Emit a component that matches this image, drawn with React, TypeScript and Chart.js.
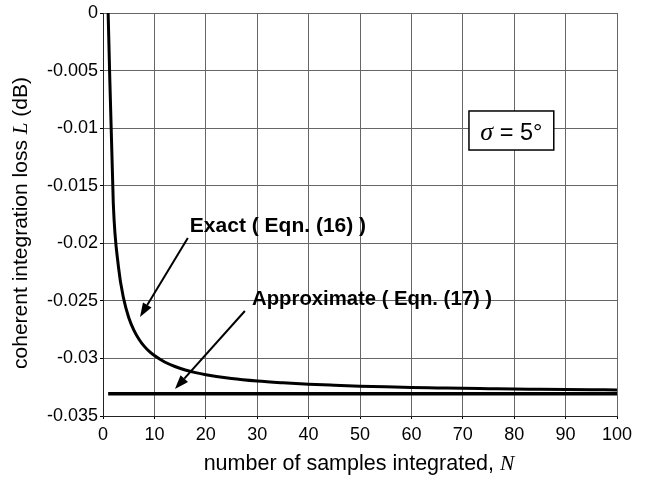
import React, { useEffect, useRef } from "react";
import { Chart, registerables } from "chart.js";

Chart.register(...registerables);

// ---- data ----
const sampleCounts = [1, 2, 3, 4, 5, 6, 7, 8, 9, 10, 12, 14, 16, 18, 20, 25, 30, 35, 40, 45, 50, 55, 60, 65, 70, 75, 80, 85, 90, 95, 100];
const exactLoss = [0, -0.0165, -0.02202, -0.02478, -0.02644, -0.02754, -0.02833, -0.02893, -0.02939, -0.02975, -0.03031, -0.0307, -0.031, -0.03123, -0.03141, -0.03175, -0.03197, -0.03212, -0.03224, -0.03233, -0.03241, -0.03247, -0.03252, -0.03256, -0.0326, -0.03263, -0.03266, -0.03268, -0.0327, -0.03272, -0.03274];
const approxN = [1, 100];
const approxLoss = [-0.03306, -0.03306];
const xTickValues = [0, 10, 20, 30, 40, 50, 60, 70, 80, 90, 100];
const yTickLabels = ["0", "-0.005", "-0.01", "-0.015", "-0.02", "-0.025", "-0.03", "-0.035"];

const exactLabel = "Exact ( Eqn. (16) )";
const approxLabel = "Approximate ( Eqn. (17) )";

const SANS = '"Liberation Sans", Arial, Helvetica, sans-serif';
const SERIF = '"Liberation Serif", "Times New Roman", serif';

type Seg = { t: string; f: string };

function drawSegs(ctx: CanvasRenderingContext2D, segs: Seg[], cx: number, baseline: number) {
  let total = 0;
  for (const s of segs) {
    ctx.font = s.f;
    total += ctx.measureText(s.t).width;
  }
  let xx = cx - total / 2;
  ctx.textAlign = "left";
  ctx.textBaseline = "alphabetic";
  for (const s of segs) {
    ctx.font = s.f;
    ctx.fillText(s.t, xx, baseline);
    xx += ctx.measureText(s.t).width;
  }
}

function arrow(ctx: CanvasRenderingContext2D, x1: number, y1: number, x2: number, y2: number) {
  const ang = Math.atan2(y2 - y1, x2 - x1);
  const hl = 14;
  const hw = 5;
  const bx = x2 - hl * Math.cos(ang);
  const by = y2 - hl * Math.sin(ang);
  ctx.beginPath();
  ctx.moveTo(x1, y1);
  ctx.lineTo(bx, by);
  ctx.lineWidth = 2;
  ctx.strokeStyle = "#000";
  ctx.stroke();
  ctx.beginPath();
  ctx.moveTo(x2, y2);
  ctx.lineTo(bx + hw * Math.sin(ang), by - hw * Math.cos(ang));
  ctx.lineTo(bx - hw * Math.sin(ang), by + hw * Math.cos(ang));
  ctx.closePath();
  ctx.fillStyle = "#000";
  ctx.fill();
}

const annotPlugin = {
  id: "annot",
  afterDraw(chart: any) {
    const { ctx, scales } = chart;
    const x = scales.x;
    const y = scales.y;
    const px = (v: number) => x.getPixelForValue(v);
    const py = (v: number) => y.getPixelForValue(v);
    ctx.save();
    ctx.fillStyle = "#000";

    // labels
    ctx.textAlign = "left";
    ctx.textBaseline = "alphabetic";
    ctx.font = `bold 21px ${SANS}`;
    ctx.fillText(exactLabel, px(16.9), py(-0.01902));
    ctx.font = `bold 20.3px ${SANS}`;
    ctx.fillText(approxLabel, px(29.0), py(-0.02536));

    arrow(ctx, px(16.5), py(-0.01954), px(7.2), py(-0.0264));
    arrow(ctx, px(27.6), py(-0.02588), px(14.0), py(-0.03266));

    // sigma box
    const bx1 = px(71.2), bx2 = px(87.7), by1 = py(-0.00851), by2 = py(-0.0119);
    ctx.fillStyle = "#fff";
    ctx.fillRect(bx1, by1, bx2 - bx1, by2 - by1);
    ctx.lineWidth = 1.5;
    ctx.strokeStyle = "#000";
    ctx.strokeRect(bx1, by1, bx2 - bx1, by2 - by1);
    ctx.fillStyle = "#000";
    drawSegs(ctx, [
      { t: "\u03C3", f: `italic 26px ${SERIF}` },
      { t: " = 5\u00B0", f: `23.5px ${SANS}` },
    ], (bx1 + bx2) / 2, py(-0.01103));

    // x axis title
    drawSegs(ctx, [
      { t: "number of samples integrated, ", f: `21.5px ${SANS}` },
      { t: "N", f: `italic 21.5px ${SERIF}` },
    ], 359, 470);

    // y axis title
    ctx.save();
    ctx.translate(27, 223);
    ctx.rotate(-Math.PI / 2);
    drawSegs(ctx, [
      { t: "coherent integration loss ", f: `21px ${SANS}` },
      { t: "L", f: `italic 21px ${SERIF}` },
      { t: " (dB)", f: `21px ${SANS}` },
    ], 0, 0);
    ctx.restore();

    ctx.restore();
  },
};

export default function App() {
  const ref = useRef<HTMLCanvasElement | null>(null);
  useEffect(() => {
    if (!ref.current) return;
    const chart = new Chart(ref.current, {
      type: "line",
      data: {
        datasets: [
          {
            label: "Exact",
            data: sampleCounts.map((n, i) => ({ x: n, y: exactLoss[i] })),
            borderColor: "#000",
            borderWidth: 3,
            pointRadius: 0,
            cubicInterpolationMode: "monotone",
            fill: false,
          },
          {
            label: "Approximate",
            data: approxN.map((n, i) => ({ x: n, y: approxLoss[i] })),
            borderColor: "#000",
            borderWidth: 3.5,
            pointRadius: 0,
            fill: false,
          },
        ],
      },
      options: {
        responsive: false,
        animation: false,
        layout: { padding: { left: 0, top: 13, right: 28, bottom: 0 } },
        plugins: { legend: { display: false }, tooltip: { enabled: false } },
        scales: {
          x: {
            type: "linear",
            min: 0,
            max: 100,
            afterBuildTicks: (scale: any) => {
              scale.ticks = xTickValues.map((v) => ({ value: v }));
            },
            afterFit: (scale: any) => {
              scale.height = 61;
            },
            ticks: {
              color: "#000",
              font: { family: SANS, size: 18 },
              padding: 5,
              maxRotation: 0,
              callback: (v: any) => String(v),
            },
            grid: { color: "#666", lineWidth: 1, tickLength: 3, tickColor: "#000" },
            border: { color: "#222", width: 1 },
          },
          y: {
            type: "linear",
            min: -0.035,
            max: 0,
            afterBuildTicks: (scale: any) => {
              scale.ticks = yTickLabels.map((_, i) => ({ value: -0.005 * i }));
            },
            afterFit: (scale: any) => {
              scale.width = 103;
            },
            ticks: {
              color: "#000",
              font: { family: SANS, size: 18 },
              padding: 2,
              callback: (v: any) => {
                const i = Math.round(-Number(v) / 0.005);
                return yTickLabels[i] ?? "";
              },
            },
            grid: { color: "#666", lineWidth: 1, tickLength: 3, tickColor: "#000" },
            border: { color: "#222", width: 1 },
          },
        },
      },
      plugins: [annotPlugin],
    });
    return () => chart.destroy();
  }, []);
  return (
    <div style={{ position: "fixed", left: 0, top: 0, width: 645, height: 477, background: "#fff" }}>
      <canvas ref={ref} width={645} height={477} />
    </div>
  );
}
